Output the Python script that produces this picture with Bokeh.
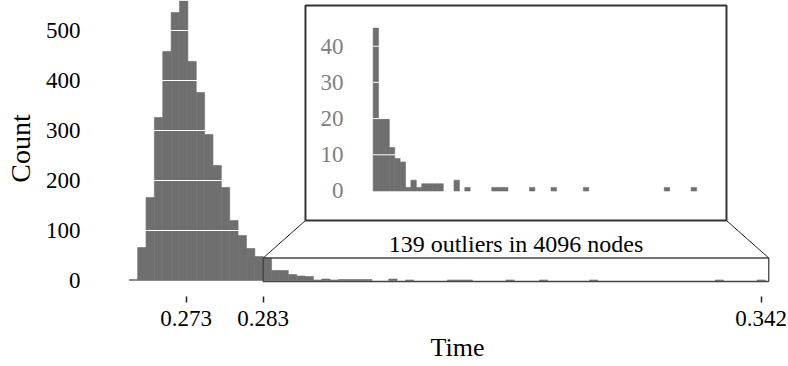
import numpy as np
from bokeh.plotting import figure
from bokeh.models import Range1d, FixedTicker
from bokeh.core.properties import value
from bokeh.embed import file_html
from bokeh.resources import INLINE

# ---------------- data ----------------
BIN_WIDTH = 0.001
MAIN_BIN_START = 0.2665          # first bin left edge
main_counts = [2, 66, 166, 326, 458, 536, 559, 438, 376, 292, 230, 186, 120, 90, 64, 48]
OUTLIER_START = 0.2825           # outlier threshold (left edge of first outlier bin)
outlier_counts = [45, 20, 20, 12, 9, 8, 1, 3, 1, 2,
                  2, 2, 2, 0, 0, 3, 0, 1, 0, 0,
                  0, 0, 1, 1, 1, 0, 0, 0, 0, 1,
                  0, 0, 0, 1, 0, 0, 0, 0, 0, 1,
                  0, 0, 0, 0, 0, 0, 0, 0, 0, 0,
                  0, 0, 0, 0, 1, 0, 0, 0, 0, 1]
x_tick_values = [0.2733, 0.2825, 0.342]
x_tick_labels = ["0.273", "0.283", "0.342"]
y_tick_values = [0, 100, 200, 300, 400, 500]
inset_tick_values = [0, 10, 20, 30, 40]

FONT = "Liberation Serif"
BAR = "#6f6f6f"

n_main = len(main_counts)
n_out = len(outlier_counts)
main_left = [MAIN_BIN_START + i * BIN_WIDTH for i in range(n_main)]
out_left = [OUTLIER_START + i * BIN_WIDTH for i in range(n_out)]
all_left = main_left + out_left
all_counts = main_counts + outlier_counts

# only non-empty bins are drawn
nz_left = [l for l, c in zip(all_left, all_counts) if c > 0]
nz_counts = [c for c in all_counts if c > 0]
nz_right = [l + BIN_WIDTH for l in nz_left]
out_nz_left = [l for l, c in zip(out_left, outlier_counts) if c > 0]
out_nz_counts = [c for c in outlier_counts if c > 0]
out_nz_right = [l + BIN_WIDTH for l in out_nz_left]

total_nodes = sum(all_counts)
total_outliers = sum(outlier_counts)

X_RANGE = (0.266168, 0.34526)
Y_RANGE = (-32, 560)

# ---------------- main figure ----------------
p = figure(width=788, height=366, output_backend="svg", toolbar_location=None,
           x_range=Range1d(*X_RANGE), y_range=Range1d(*Y_RANGE),
           min_border_left=126, min_border_right=0, min_border_top=0, min_border_bottom=70)
p.outline_line_color = None
p.background_fill_color = "white"
p.border_fill_color = "white"

p.quad(left=nz_left, right=nz_right, bottom=0, top=nz_counts,
       fill_color=BAR, line_color=BAR, line_width=0.6)

# white grid lines drawn only across the main histogram body
grid_vals = y_tick_values[1:]
p.segment(x0=MAIN_BIN_START, x1=OUTLIER_START, y0=grid_vals, y1=grid_vals,
          line_color="white", line_width=1)

# axes
p.xaxis.ticker = FixedTicker(ticks=x_tick_values)
p.xaxis.major_label_overrides = dict(zip(x_tick_values, x_tick_labels))
p.xaxis.axis_line_color = None
p.xaxis.major_tick_out = 6
p.xaxis.major_tick_in = 0
p.xaxis.major_tick_line_color = "#222222"
p.xaxis.major_tick_line_width = 1.5
p.xaxis.minor_tick_line_color = None
p.xaxis.major_label_standoff = 8
p.xaxis.axis_label = "Time"
p.xaxis.axis_label_standoff = 4

p.yaxis.ticker = FixedTicker(ticks=y_tick_values)
p.yaxis.axis_line_color = None
p.yaxis.major_tick_out = 0
p.yaxis.major_tick_in = 0
p.yaxis.major_tick_line_color = None
p.yaxis.minor_tick_line_color = None
p.yaxis.major_label_standoff = 46
p.yaxis.axis_label = "Count"
p.yaxis.axis_label_standoff = 7

for ax in (p.xaxis, p.yaxis):
    ax.major_label_text_font = FONT
    ax.major_label_text_font_size = "23px"
    ax.major_label_text_color = "black"
    ax.axis_label_text_font = FONT
    ax.axis_label_text_font_style = "normal"
    ax.axis_label_text_color = "black"
p.xaxis.axis_label_text_font_size = "26px"
p.yaxis.axis_label_text_font_size = "28px"

p.xgrid.grid_line_color = None
p.ygrid.grid_line_color = None

# ---------------- zoom box + connectors ----------------
ZOOM_X = (OUTLIER_START, 0.3429)
ZOOM_Y = (-2, max(outlier_counts))
INSET_X = (0.28755, 0.33785)
INSET_Y = (120, 550)

p.quad(left=[ZOOM_X[0]], right=[ZOOM_X[1]], bottom=[ZOOM_Y[0]], top=[ZOOM_Y[1]],
       fill_alpha=0, line_color="#444444", line_width=1.3)
p.segment(x0=[ZOOM_X[0], ZOOM_X[1]], y0=[ZOOM_Y[1], ZOOM_Y[1]],
          x1=[INSET_X[0], INSET_X[1]], y1=[INSET_Y[0], INSET_Y[0]],
          line_color="#222222", line_width=1)

p.text(x=[(ZOOM_X[0] + ZOOM_X[1]) / 2], y=[73],
       text=[f"{total_outliers} outliers in {total_nodes} nodes"],
       text_font=value(FONT), text_font_size="24px", text_color="black",
       text_align="center", text_baseline="alphabetic")

# ---------------- inset ----------------
p.quad(left=[INSET_X[0]], right=[INSET_X[1]], bottom=[INSET_Y[0]], top=[INSET_Y[1]],
       fill_color="white", line_color=None)

sub = p.subplot(x_source=Range1d(0.26994, 0.34805), y_source=Range1d(-8.15, 51.24),
                x_target=Range1d(*INSET_X), y_target=Range1d(*INSET_Y))
sub.quad(left=out_nz_left, right=out_nz_right, bottom=0, top=out_nz_counts,
         fill_color=BAR, line_color=BAR, line_width=0.6)
sub.segment(x0=OUTLIER_START, x1=out_left[-1] + BIN_WIDTH,
            y0=inset_tick_values[1:], y1=inset_tick_values[1:],
            line_color="white", line_width=1)
sub.text(x=0.27699, y=inset_tick_values, text=[str(v) for v in inset_tick_values],
         text_font=value(FONT), text_font_size="23px", text_color="#808080",
         text_align="right", text_baseline="middle")

p.quad(left=[INSET_X[0]], right=[INSET_X[1]], bottom=[INSET_Y[0]], top=[INSET_Y[1]],
       fill_alpha=0, line_color="#333333", line_width=2)

open("out.html", "w").write(file_html(p, INLINE))
